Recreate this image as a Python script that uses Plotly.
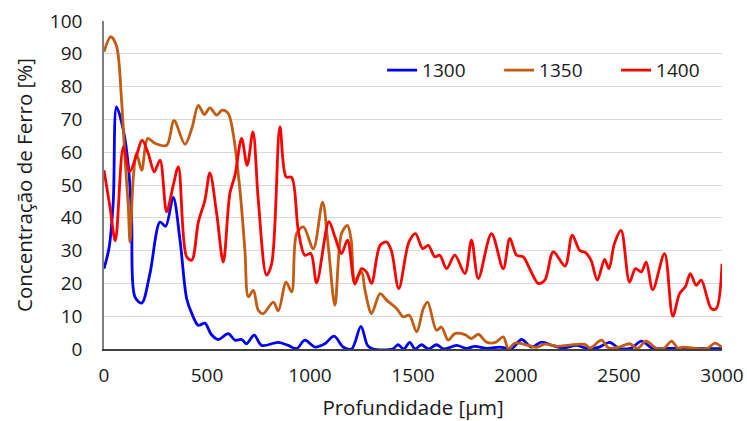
import plotly.graph_objects as go

# Depth profiles of iron concentration for three treatment temperatures
x_1300 = [0, 25, 45, 61, 94, 118, 134, 150, 183, 223, 272, 299, 336, 369, 401, 425, 458, 490,
          520, 555, 603, 636, 668, 692, 729, 765, 846, 894, 935, 975, 1024, 1072, 1117, 1161,
          1202, 1247, 1280, 1307, 1400, 1428, 1455, 1484, 1510, 1541, 1575, 1614, 1650, 1711,
          1760, 1800, 1860, 1920, 1980, 2027, 2075, 2124, 2180, 2230, 2293, 2340, 2400, 2455,
          2500, 2560, 2609, 2660, 2720, 2800, 2900, 3000]
y_1300 = [24.5, 31, 45, 73.8, 66.7, 56, 40.3, 15.9, 14, 23, 38.7, 37.4, 46.2, 33.2, 15.4, 11, 7.2, 7.9,
          4.5, 2.9, 4.7, 2.7, 2.9, 1.6, 4.2, 1.1, 2, 1.1, 0.1, 2.7, 0.6, 1.6, 3.9, 0.6,
          0, 6.9, 1, 0, 0, 1.3, 0, 2, 0, 1.3, 0, 1.3, 0, 1.1,
          0.2, 0.8, 0.2, 0.6, 0.2, 2.9, 0.6, 2.1, 1, 0.3, 1.1, 0.3, 0.5, 2,
          0.3, 0.3, 2.4, 0.3, 0.2, 0.2, 0.2, 0.1]

x_1350 = [0, 33, 61, 85, 102, 118, 126, 142, 158, 183, 212, 248, 304, 340, 393, 426, 458, 487,
          514, 547, 574, 603, 627, 660, 684, 701, 725, 749, 773, 822, 846, 884, 911, 935, 968,
          1016, 1061, 1089, 1121, 1153, 1182, 1200, 1218, 1250, 1267, 1299, 1340, 1372, 1421,
          1453, 1482, 1518, 1550, 1571, 1614, 1638, 1671, 1703, 1752, 1784, 1817, 1857, 1900,
          1938, 1963, 1995, 2060, 2100, 2140, 2200, 2260, 2334, 2360, 2415, 2450, 2500, 2551,
          2590, 2632, 2680, 2720, 2755, 2785, 2812, 2870, 2930, 2966, 3000]
y_1350 = [90.6, 95.2, 92.3, 76, 58, 43.3, 32.6, 52, 59.6, 54.5, 64.2, 62.7, 62.1, 69.6, 62.4, 67.2, 74.3, 71.5,
          73.5, 71.3, 72.8, 71.8, 65.7, 48.4, 30.1, 15.9, 17.9, 11.8, 10.8, 14.3, 11.6, 20.4, 17.4, 35.2, 37.2,
          30.6, 44.8, 31.1, 13.3, 35.2, 37.7, 33.2, 21, 23.5, 17.9, 10.8, 16.9, 14.9, 12.3,
          9.8, 10.3, 5.2, 12.3, 14.3, 5.7, 6.7, 2.7, 4.7, 4.4, 3.2, 4.5, 2.1, 2,
          3.7, 0.1, 1.8, 1.1, 0.5, 1.5, 0.8, 1.2, 1.4, 0.3, 2.7, 0.3, 0.6, 1.6,
          0.2, 2.4, 0.3, 0.3, 2.4, 0.3, 0.6, 0.2, 0.2, 1.8, 0.5]

x_1400 = [0, 29, 55, 94, 124, 158, 185, 215, 244, 272, 304, 336, 361, 401, 426, 458, 490, 514,
          547, 579, 611, 636, 668, 695, 723, 749, 789, 814, 854, 884, 911, 943, 975, 1004, 1032,
          1092, 1121, 1153, 1182, 1218, 1250, 1274, 1299, 1340, 1372, 1395, 1431, 1480, 1512,
          1547, 1574, 1606, 1630, 1663, 1703, 1752, 1784, 1817, 1881, 1938, 1970, 2003, 2035,
          2070, 2108, 2140, 2181, 2238, 2273, 2310, 2335, 2364, 2395, 2430, 2451, 2478, 2510,
          2551, 2580, 2608, 2632, 2664, 2721, 2761, 2794, 2823, 2846, 2875, 2899, 2948, 2972, 3000]
y_1400 = [54.5, 43.3, 33, 61.6, 54, 59.1, 63.7, 59.6, 54, 57.6, 41.8, 49.9, 55.5, 28.1, 27.1, 38.7, 45.4, 53.7,
          41.3, 26.5, 47.4, 53, 64.2, 56, 66.2, 45.4, 22.5, 26, 67.7, 52.5, 52.3, 36.2, 28.6, 29.1, 20.2,
          38.8, 34.2, 29.1, 33.2, 19.8, 24.5, 23.5, 20, 31.6, 32.6, 30, 18.4, 32.6, 35.2,
          30.6, 31.6, 28.1, 28.6, 24.5, 28.6, 23, 33.2, 21.5, 35.2, 24.5, 33.7, 28.6, 28.1,
          24, 20, 21, 29.6, 25.3, 34.7, 30, 29.5, 27.1, 21, 27.3, 24.5, 32.2, 36.2,
          20.4, 24.5, 23.5, 26.5, 18.1, 29.1, 10, 16.9, 19.1, 23, 19.4, 21, 12.3, 12.3, 26]

series = [
    ("1300", x_1300, y_1300, "#0000FF"),
    ("1350", x_1350, y_1350, "#C55A11"),
    ("1400", x_1400, y_1400, "#FF0000"),
]

x_ticks = [0, 500, 1000, 1500, 2000, 2500, 3000]
y_ticks = [0, 10, 20, 30, 40, 50, 60, 70, 80, 90, 100]

FONT = "Open Sans"

fig = go.Figure()
for name, xs, ys, color in series:
    fig.add_trace(go.Scatter(
        x=xs, y=ys, name=name, mode="lines",
        line=dict(color=color, width=2.8, shape="spline", smoothing=0.9),
    ))

fig.update_layout(
    width=747, height=421,
    margin=dict(l=104, r=25, t=21, b=72),
    paper_bgcolor="white", plot_bgcolor="white",
    font=dict(family=FONT, size=19, color="#1a1a1a"),
    showlegend=True,
    legend=dict(
        orientation="h", x=0.45, y=0.85, xanchor="left", yanchor="middle",
        bgcolor="rgba(0,0,0,0)", font=dict(size=19, color="#1a1a1a"),
        entrywidth=72,
    ),
)

fig.update_xaxes(
    range=[0, 3000], tickvals=x_ticks, ticktext=[str(v) for v in x_ticks],
    showgrid=False, zeroline=False, automargin=False,
    showline=True, linecolor="#404040", linewidth=1.5,
    ticks="", ticklabelstandoff=8,
    title=dict(text="Profundidade [µm]", font=dict(size=20.5), standoff=16),
)
fig.update_yaxes(
    range=[0, 100], tickvals=y_ticks, ticktext=[str(v) for v in y_ticks],
    showgrid=True, gridcolor="#D9D9D9", gridwidth=1, zeroline=False, automargin=False,
    showline=True, linecolor="#7F7F7F", linewidth=1.5,
    ticks="", ticklabelstandoff=16,
    title=dict(text="Concentração de Ferro [%]", font=dict(size=20.5), standoff=12),
)

fig.write_html("out.html")
